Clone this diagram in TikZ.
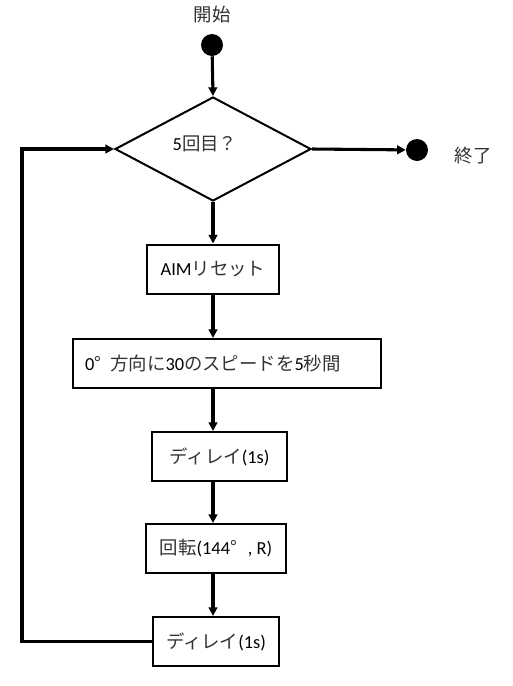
\documentclass[tikz,border=0pt]{standalone}
\usepackage{fontspec}
\setmainfont{Carlito}
\newfontfamily\jpfont{Noto Sans CJK JP}
\usetikzlibrary{arrows.meta,shapes.geometric}
\newcommand\Jp[1]{{\jpfont\color{black!80}#1}}
\begin{document}
\begin{tikzpicture}[x=0.75pt,y=-0.75pt,
  every node/.style={font=\fontsize{13.8}{16}\selectfont},
  box/.style={draw,line width=1.5pt,minimum height=49*0.75pt,inner sep=0pt},
  conn/.style={line width=2.3pt,-{Triangle[length=6.5pt,width=6.5pt]}},
  dot/.style={circle,fill=black,minimum size=16.5pt,inner sep=0pt}]
\useasboundingbox (0,0) rectangle (513,686);
\node (lstart) at (212,15) {\Jp{開始}};
\node[dot] (s) at (212,45) {};
\node[draw,diamond,line width=1.5pt,minimum width=147pt,minimum height=78pt,inner sep=0pt] (d) at (213,149) {};
\node (dq) at (205,144) {5\Jp{回目？}};
\node[dot] (e) at (417,150) {};
\node (lend) at (473,156) {\Jp{終了}};
\node[box,minimum width=132*0.75pt] (b1) at (213,269) {AIM\Jp{リセット}};
\node[box,minimum width=308*0.75pt,text width=213pt,inner xsep=9pt,align=left] (b2) at (227,363.5) {0\Jp{°\hspace{0.5em}方向に}30\Jp{のスピードを}5\Jp{秒間}};
\node[box,minimum width=135*0.75pt] (b3) at (219.5,456.5) {\Jp{ディレイ}(1s)};
\node[box,minimum width=140*0.75pt] (b4) at (216,548.5) {\Jp{回転}(144\Jp{°}\hspace{0.6em}, R)};
\node[box,minimum width=126*0.75pt] (b5) at (216,641.5) {\Jp{ディレイ}(1s)};
\coordinate (lc) at (22,149);
\draw[conn] (s) -- (d.north);
\draw[conn] (d.east) -- (e);
\draw[conn] (d.south) -- (d.south |- b1.north);
\draw[conn] (b1.south -| d.south) -- (b2.north -| d.south);
\draw[conn] (b2.south -| d.south) -- (b3.north -| d.south);
\draw[conn] (b3.south -| d.south) -- (b4.north -| d.south);
\draw[conn] (b4.south -| d.south) -- (b5.north -| d.south);
\draw[conn] (b5.west) -| (lc) -- (d.west);
\end{tikzpicture}
\end{document}
